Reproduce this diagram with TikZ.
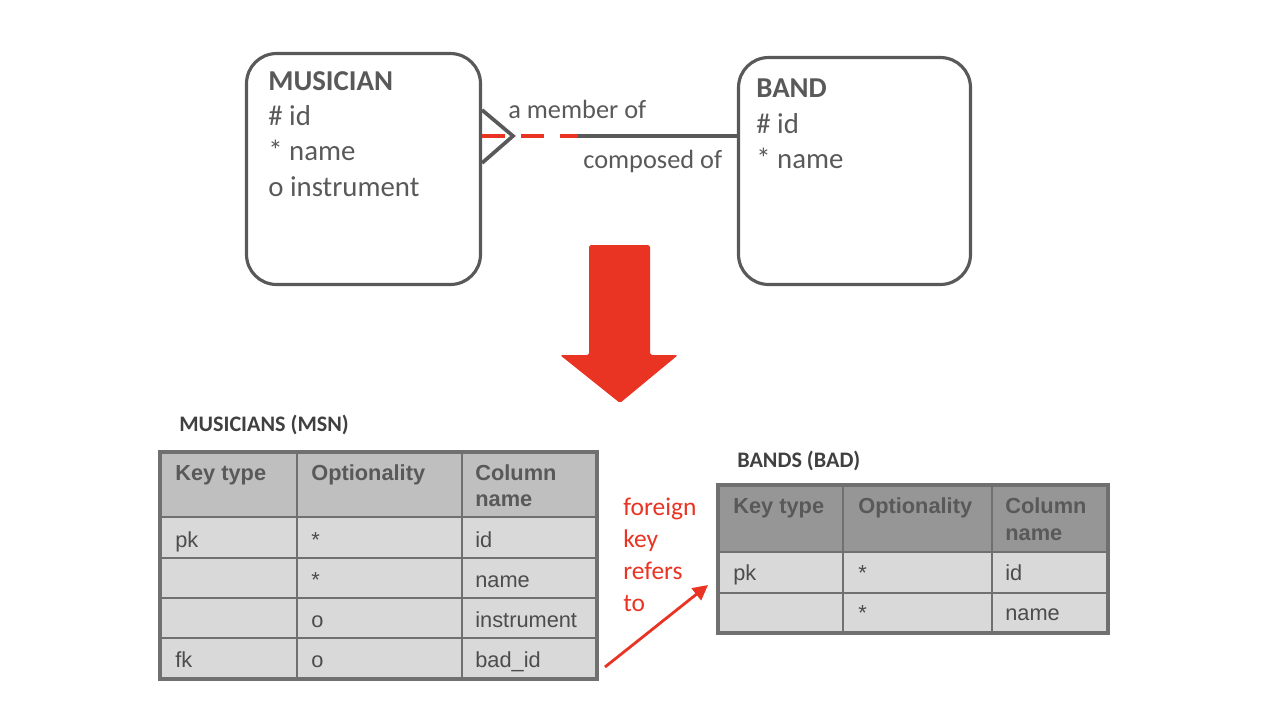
\documentclass[tikz,border=0pt]{standalone}
\usepackage{fontspec}
\setmainfont{Carlito}
\newfontfamily\tabfont{Liberation Sans}
\usepackage{tikz}
\usetikzlibrary{arrows.meta,calc}
\definecolor{ergray}{RGB}{89,89,89}
\definecolor{framegray}{RGB}{112,112,112}
\definecolor{hdrlight}{RGB}{191,191,191}
\definecolor{hdrdark}{RGB}{150,150,150}
\definecolor{cellgray}{RGB}{217,217,217}
\definecolor{arrowred}{RGB}{233,51,35}
\def\fsz#1{\fontsize{#1}{#1}\selectfont}
\tikzset{
  erbox/.style={draw=ergray, line width=1.8pt, rounded corners=0.6cm, inner sep=0pt},
  ertext/.style={anchor=base west, inner sep=0pt, text=ergray, font={\fsz{16.4}}},
  rellabel/.style={anchor=base west, inner sep=0pt, text=ergray, font={\fsz{15}}},
  relline/.style={draw=ergray, line width=2.1pt},
  tabtitle/.style={anchor=base west, inner sep=0pt, text=black!75, font={\bfseries\fsz{12.6}}},
  cell/.style={anchor=base west, inner sep=0pt, text=black!70, font={\tabfont\fsz{12.4}}},
  headcell/.style={cell, text=ergray, font={\tabfont\bfseries\fsz{12.4}}},
  gridline/.style={draw=framegray, line width=0.9pt},
  tabframe/.style={draw=framegray, line width=1.8pt},
  fktext/.style={anchor=base west, inner sep=0pt, text=arrowred, font={\fsz{14.5}}},
  fkarrow/.style={draw=arrowred, line width=1.6pt, -{Triangle[length=0.3cm,width=0.3cm]}}
}
\begin{document}
\begin{tikzpicture}[x=0.02cm, y=-0.02cm]
			%%%%% START %%%%%
			\useasboundingbox (0,0) rectangle (1262,704);
			
			\node[erbox, minimum width=4.68cm, minimum height=4.62cm] (msn) at (363.5,169) {};
			\node[erbox, minimum width=4.64cm, minimum height=4.54cm] (band) at (854.5,171) {};
			
			\node[ertext, font=\bfseries\fsz{16.4}] (msnname) at (268,90) {MUSICIAN};
			\node[ertext] (msnid) at (268,125) {\# id};
			\node[ertext] (msnnm) at (268,160) {* name};
			\node[ertext] (msnins) at (268,196) {o instrument};
			
			\node[ertext, font=\bfseries\fsz{16.4}] (bandname) at (756,97) {BAND};
			\node[ertext] (bandid) at (756,133) {\# id};
			\node[ertext] (bandnm) at (756,168) {* name};
			
			\coordinate (foot) at (513,136);
			\coordinate (dashend) at (578,136);
			\draw[relline] ($(msn.east|-foot)+(0,-26)$) -- (foot) -- ($(msn.east|-foot)+(0,27)$);
			\draw[relline, draw=arrowred, dash pattern=on 0.46cm off 0.32cm] (msn.east|-foot) -- (dashend);
			\draw[relline] (dashend) -- (band.west|-foot);
			\node[rellabel] (member) at (508,118) {a member of};
			\node[rellabel] (composed) at (583,168) {composed of};
			
			\fill[arrowred, rounded corners=1pt] (589,245) -- (650,245) -- (650,355) -- (678,355) -- (620,403) -- (560,355) -- (589,355) -- cycle;
			
			%%%%% MUSICIANS table %%%%%
			\node[tabtitle] (msntitle) at (179,431) {MUSICIANS (MSN)};
			\fill[hdrlight] (160,452) rectangle (597,517);
			\fill[cellgray] (160,517) rectangle (597,679);
			\foreach \y in {517,558,598,638} \draw[gridline] (160,\y) -- (597,\y);
			\foreach \x in {297,462} \draw[gridline] (\x,452) -- (\x,679);
			\draw[tabframe] (160,452) rectangle (597,679);
			\node[headcell] (mkey) at (175,480) {Key type};
			\node[headcell] (mopt) at (311,480) {Optionality};
			\node[headcell] (mcol) at (475,480) {Column};
			\node[headcell] (mcolb) at (475,506) {name};
			\foreach \k/\o/\c [count=\r] in {pk/*/id, /*/name, /o/instrument, fk/o/bad\_id} {
				\node[cell] (m\r k) at (175,{507+40*\r}) {\k};
				\node[cell] (m\r o) at (311,{507+40*\r}) {\o};
				\node[cell] (m\r c) at (475,{507+40*\r}) {\c};
			}
			
			%%%%% BANDS table %%%%%
			\node[tabtitle] (badtitle) at (737,467) {BANDS (BAD)};
			\fill[hdrdark] (718,485) rectangle (1108,552);
			\fill[cellgray] (718,552) rectangle (1108,633);
			\foreach \y in {552,593} \draw[gridline] (718,\y) -- (1108,\y);
			\foreach \x in {843,992} \draw[gridline] (\x,485) -- (\x,633);
			\draw[tabframe] (718,485) rectangle (1108,633);
			\node[headcell] (bkey) at (733,513) {Key type};
			\node[headcell] (bopt) at (858,513) {Optionality};
			\node[headcell] (bcol) at (1005,513) {Column};
			\node[headcell] (bcolb) at (1005,540) {name};
			\foreach \k/\o/\c [count=\r] in {pk/*/id, /*/name} {
				\node[cell] (b\r k) at (733,{540+40*\r}) {\k};
				\node[cell] (b\r o) at (858,{540+40*\r}) {\o};
				\node[cell] (b\r c) at (1005,{540+40*\r}) {\c};
			}
			
			\node[fktext] (fkline1) at (623,515) {foreign};
			\node[fktext] (fkline2) at (623,547) {key};
			\node[fktext] (fkline3) at (623,579) {refers};
			\node[fktext] (fkline4) at (623,611) {to};
			\coordinate (fkend) at (605,667);
			\coordinate (pkend) at (708,585);
			\draw[fkarrow] (fkend) -- (pkend);
			
			%%%%% END %%%%%
\end{tikzpicture}
\end{document}
